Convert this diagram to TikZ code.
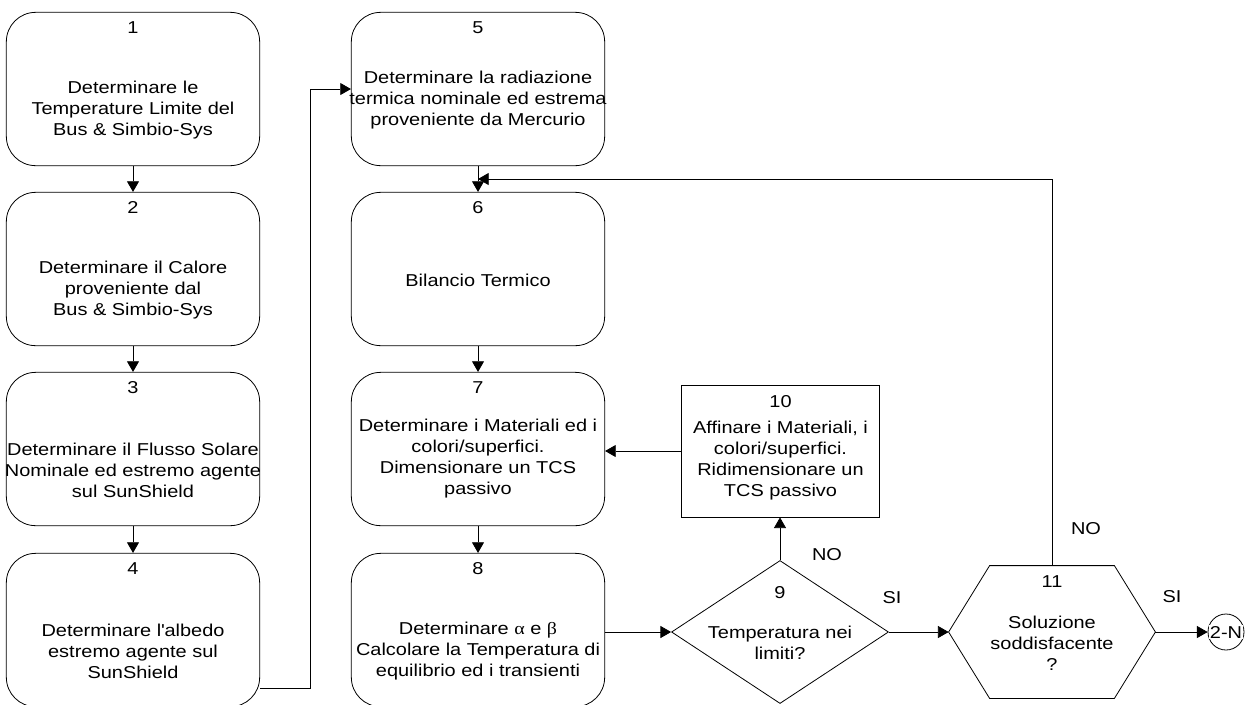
\documentclass[tikz,border=0pt]{standalone}
\usepackage{fontspec}
\setmainfont{Liberation Sans}[FakeStretch=1.16]
\newfontfamily\greekfont{Liberation Serif}[FakeStretch=1.16]
\usetikzlibrary{positioning}
\usetikzlibrary{shapes.geometric}
\usetikzlibrary{calc}
\usetikzlibrary{arrows.meta}
\tikzset{
    stepbox/.style = {rectangle,rounded corners=22pt,draw,minimum width=190pt,minimum height=115pt,inner sep=0pt},
    sharpbox/.style = {rectangle,draw,minimum width=149pt,minimum height=99pt,inner sep=0pt},
    test/.style = {diamond,draw,minimum width=162.75pt,minimum height=107.25pt,inner sep=0pt},
    hexbox/.style = {rectangle,minimum width=154.5pt,minimum height=99pt,inner sep=0pt},
    offpage/.style = {circle,draw,minimum size=27pt,inner sep=0pt},
    steptext/.style = {align=center,inner sep=0pt},
    stepnum/.style = {inner sep=0pt},
    answer/.style = {inner sep=0pt},
    flow/.style = {-{Triangle[length=8pt,width=9pt]}}}

\begin{document}
\begin{tikzpicture}[x=0.75pt,y=-0.75pt,line width=0.6pt,
        font=\fontsize{12.9pt}{15.75pt}\selectfont]
    \useasboundingbox (0,0) rectangle (1245,704);
    % left column
    \path (133,89) node[stepbox] (s1) {}
        ++ (0,180) node[stepbox] (s2) {}
        ++ (0,180) node[stepbox] (s3) {}
        ++ (0,181) node[stepbox] (s4) {};
    % middle column
    \path (478,89) node[stepbox] (s5) {}
        ++ (0,180) node[stepbox] (s6) {}
        ++ (0,180) node[stepbox] (s7) {}
        ++ (0,181) node[stepbox] (s8) {};
    \path (780.5,451) node[sharpbox] (s10) {}
        (780,632) node[test] (d9) {}
        (1052,632) node[hexbox] (s11) {}
        (1226,632) node[offpage] (c2) {};
    \draw (s11.west) -- ([xshift=30.75pt]s11.north west) -- ([xshift=-30.75pt]s11.north east)
        -- (s11.east) -- ([xshift=-30.75pt]s11.south east) -- ([xshift=30.75pt]s11.south west) -- cycle;

    % numbers
    \node[stepnum] (n1) at ([yshift=-12pt]s1.north) {1};
    \node[stepnum] (n2) at ([yshift=-12pt]s2.north) {2};
    \node[stepnum] (n3) at ([yshift=-12pt]s3.north) {3};
    \node[stepnum] (n4) at ([yshift=-12pt]s4.north) {4};
    \node[stepnum] (n5) at ([yshift=-12pt]s5.north) {5};
    \node[stepnum] (n6) at ([yshift=-12pt]s6.north) {6};
    \node[stepnum] (n7) at ([yshift=-12pt]s7.north) {7};
    \node[stepnum] (n8) at ([yshift=-12pt]s8.north) {8};
    \node[stepnum] (n10) at ([yshift=-12.5pt]s10.north) {10};
    \node[stepnum] (n9) at (780,593) {9};
    \node[stepnum] (n11) at (1052,582) {11};

    % texts
    \node[steptext] (t1) at ([yshift=-15.75pt]s1.center) {Determinare le\\Temperature Limite del\\Bus \& Simbio-Sys};
    \node[steptext] (t2) at ([yshift=-15.75pt]s2.center) {Determinare il Calore\\proveniente dal\\Bus \& Simbio-Sys};
    \node[steptext] (t3) at ([yshift=-15.75pt]s3.center) {Determinare il Flusso Solare\\Nominale ed estremo agente\\sul SunShield};
    \node[steptext] (t4) at ([yshift=-15.75pt]s4.center) {Determinare l\textquotesingle albedo\\estremo agente sul\\SunShield};
    \node[steptext] (t5) at ([yshift=-8.25pt]s5.center) {Determinare la radiazione\\termica nominale ed estrema\\proveniente da Mercurio};
    \node[steptext] (t6) at ([yshift=-8.25pt]s6.center) {Bilancio Termico};
    \node[steptext] (t7) at ([yshift=-7.5pt]s7.center) {Determinare i Materiali ed i\\colori/superfici.\\Dimensionare un TCS\\passivo};
    \node[steptext] (t8) at ([yshift=-15.75pt]s8.center) {Determinare {\greekfont α} e {\greekfont β}\\Calcolare la Temperatura di\\equilibrio ed i transienti};
    \node[steptext] (t10) at ([yshift=-7.5pt]s10.center) {Affinare i Materiali, i\\colori/superfici.\\Ridimensionare un\\TCS passivo};
    \node[steptext] (t9) at (780,643) {Temperatura nei\\limiti?};
    \node[steptext] (t11) at (1052,643) {Soluzione\\soddisfacente\\?};
    \node[answer,fill=white,inner sep=1pt] (l2) at (1226,632) {2-N};

    % answers
    \node[answer] (no9) at (827,555) {NO};
    \node[answer] (si9) at (892,598) {SI};
    \node[answer] (no11) at (1086,529) {NO};
    \node[answer] (si11) at (1172,597) {SI};

    % connectors
    \coordinate (m56) at ($(s5.south)!0.5!(s6.north)$);
    \draw[flow] (s1) -- (s2);
    \draw[flow] (s2) -- (s3);
    \draw[flow] (s3) -- (s4);
    \draw[flow] ([yshift=-43.5pt]s4.east) -- ++(50,0) |- (s5.west);
    \draw[flow] (s5) -- (s6);
    \draw[flow] (s6) -- (s7);
    \draw[flow] (s7) -- (s8);
    \draw[flow] (s8.east |- d9.west) -- (d9.west);
    \draw[flow] (d9.north) -- (d9.north |- s10.south);
    \draw[flow] (s10.west) -- (s10.west -| s7.east);
    \draw[flow] (d9.east) -- (s11.west);
    \draw[flow] (s11.north) |- (m56);
    \draw[flow] (s11.east) -- (c2.west);
\end{tikzpicture}
\end{document}
